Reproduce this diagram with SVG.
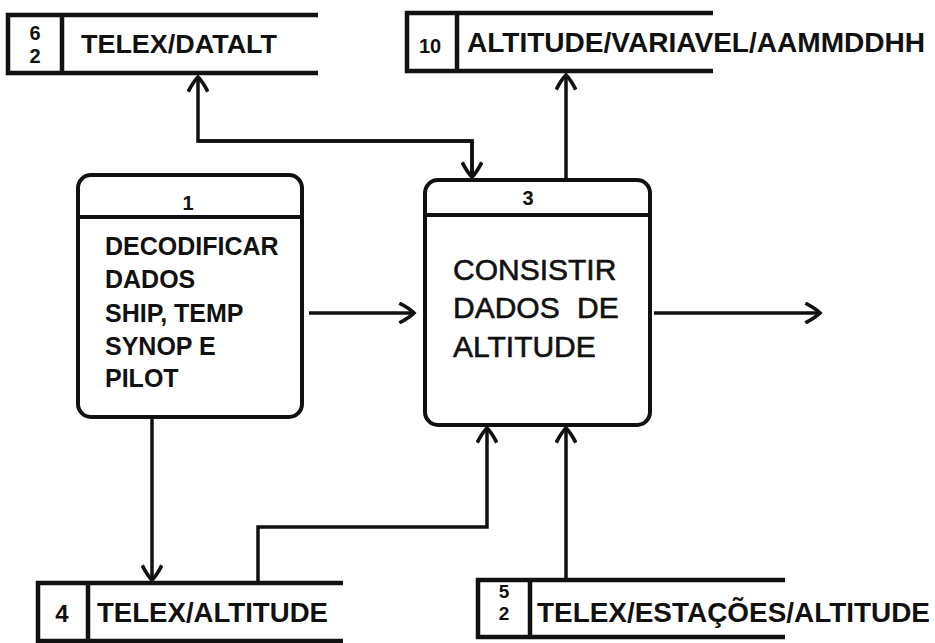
<svg xmlns="http://www.w3.org/2000/svg" width="935" height="643" viewBox="0 0 935 643">
  <style>
    .bg { fill: #ffffff; }
    .store { fill: none; stroke: #111; stroke-width: 4.5; }
    .box { fill: none; stroke: #111; stroke-width: 4; }
    .edge { fill: none; stroke: #111; stroke-width: 3.5; }
    .lbl { font-family: "Liberation Sans", Arial, sans-serif; font-weight: bold; fill: #111; }
    .lbl3 { font-family: "Liberation Sans", Arial, sans-serif; font-weight: normal; fill: #111; font-size: 30px; stroke: #111; stroke-width: 0.6; }
    .num { font-family: "Liberation Sans", Arial, sans-serif; font-weight: bold; fill: #111; text-anchor: middle; }
  </style>
  <defs>
    <marker id="arr" markerUnits="userSpaceOnUse" markerWidth="22" markerHeight="22" refX="13" refY="9" orient="auto" viewBox="0 0 18 18">
      <path d="M1,1 Q9,5 13,9 Q9,13 1,17" fill="none" stroke="#111" stroke-width="3"/>
    </marker>
  </defs>
  <rect class="bg" x="0" y="0" width="935" height="643"/>

  <g id="connectors">
    <!-- store 62 <-> process 3 -->
    <path class="edge" d="M472,176 L472,141 L198,141 L198,77" marker-end="url(#arr)"/>
    <path class="edge" d="M198,141 L472,141 L472,177" marker-end="url(#arr)"/>
    <!-- process 3 -> store 10 -->
    <path class="edge" d="M566,180 L566,75" marker-end="url(#arr)"/>
    <!-- process 1 -> process 3 -->
    <path class="edge" d="M309,313 L414,313" marker-end="url(#arr)"/>
    <!-- process 3 -> out -->
    <path class="edge" d="M654,313 L820,313" marker-end="url(#arr)"/>
    <!-- process 1 -> store 4 -->
    <path class="edge" d="M152,417 L152,580" marker-end="url(#arr)"/>
    <!-- store 4 -> process 3 -->
    <path class="edge" d="M258,583 L258,527 L487,527 L487,428" marker-end="url(#arr)"/>
    <!-- store 52 -> process 3 -->
    <path class="edge" d="M566,580 L566,428" marker-end="url(#arr)"/>
  </g>

  <g id="store-62">
    <path class="store" d="M318,15 L8,15 L8,73 L318,73"/>
    <line class="store" x1="62" y1="15" x2="62" y2="73"/>
    <text class="num" x="35" y="40" font-size="20">6</text>
    <text class="num" x="35" y="63" font-size="20">2</text>
    <text class="lbl" x="81" y="53" font-size="26" textLength="196" lengthAdjust="spacingAndGlyphs">TELEX/DATALT</text>
  </g>

  <g id="store-10">
    <path class="store" d="M713,13 L407,13 L407,71 L713,71"/>
    <line class="store" x1="457" y1="13" x2="457" y2="71"/>
    <text class="num" x="430" y="53" font-size="20">10</text>
    <text class="lbl" x="467" y="52" font-size="28" textLength="458" lengthAdjust="spacingAndGlyphs">ALTITUDE/VARIAVEL/AAMMDDHH</text>
  </g>

  <g id="process-1">
    <rect class="box" x="78" y="175" width="224" height="242" rx="13" ry="13"/>
    <line class="box" x1="78" y1="217" x2="302" y2="217"/>
    <text class="num" x="188" y="210" font-size="20">1</text>
    <text class="lbl" x="105" y="255" font-size="25">DECODIFICAR</text>
    <text class="lbl" x="105" y="288" font-size="25">DADOS</text>
    <text class="lbl" x="105" y="322" font-size="25">SHIP, TEMP</text>
    <text class="lbl" x="105" y="355" font-size="25">SYNOP E</text>
    <text class="lbl" x="105" y="387" font-size="25">PILOT</text>
  </g>

  <g id="process-3">
    <rect class="box" x="425" y="180" width="225" height="245" rx="13" ry="13"/>
    <line class="box" x1="425" y1="215" x2="650" y2="215"/>
    <text class="num" x="528" y="205" font-size="20">3</text>
    <text class="lbl3" x="453" y="280">CONSISTIR</text>
    <text class="lbl3" x="453" y="318">DADOS <tspan x="577">DE</tspan></text>
    <text class="lbl3" x="453" y="357">ALTITUDE</text>
  </g>

  <g id="store-4">
    <path class="store" d="M343,583 L38,583 L38,641 L343,641"/>
    <line class="store" x1="88" y1="583" x2="88" y2="641"/>
    <text class="num" x="62" y="622" font-size="24">4</text>
    <text class="lbl" x="97" y="622" font-size="27" textLength="231" lengthAdjust="spacingAndGlyphs">TELEX/ALTITUDE</text>
  </g>

  <g id="store-52">
    <path class="store" d="M785,580 L478,580 L478,637 L785,637"/>
    <line class="store" x1="530" y1="580" x2="530" y2="637"/>
    <text class="num" x="504" y="598" font-size="19">5</text>
    <text class="num" x="504" y="620" font-size="19">2</text>
    <text class="lbl" x="537" y="622" font-size="28" textLength="393" lengthAdjust="spacingAndGlyphs">TELEX/ESTAÇÕES/ALTITUDE</text>
  </g>
</svg>
